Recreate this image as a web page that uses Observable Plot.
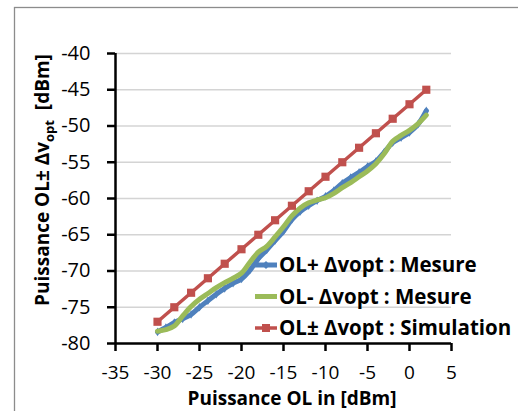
<!DOCTYPE html>
<html>
<head>
<meta charset="utf-8">
<script src="https://cdn.jsdelivr.net/npm/d3@7"></script>
<script src="https://cdn.jsdelivr.net/npm/@observablehq/plot@0.6"></script>
<style>
  body { margin: 0; background: #fff; }
  #chart { position: relative; width: 518px; height: 411px; overflow: hidden; }
  #chart svg { font-family: "Open Sans", sans-serif; }
</style>
</head>
<body>
<div id="chart"></div>
<script>
// ---- data ----
const xTicks = [-35, -30, -25, -20, -15, -10, -5, 0, 5];
const yTicks = [-80, -75, -70, -65, -60, -55, -50, -45, -40];
const seriesNames = ["OL+ Δvopt : Mesure", "OL- Δvopt : Mesure", "OL± Δvopt : Simulation"];
const seriesColors = ["#4F81BD", "#9BBB59", "#C0504D"];
const xLabel = "Puissance OL in [dBm]";
const yLabelMain = "Puissance OL± Δv";
const yLabelSub = "opt";
const yLabelEnd = "  [dBm]";

const xMeas = [-30, -29, -28, -27, -26, -25, -24, -23, -22, -21, -20, -19, -18, -17, -16, -15, -14,
               -13, -12, -11, -10, -9, -8, -7, -6, -5, -4, -3, -2, -1, 0, 1, 2];
const yPlus = [-78.4, -77.8, -77.1, -76.6, -76.0, -75.0, -74.1, -73.2, -72.4, -71.7, -71.1, -69.9, -68.3, -67.1, -65.8, -64.5, -62.9,
               -61.8, -61.0, -60.3, -59.7, -58.9, -57.9, -57.1, -56.4, -55.6, -54.9, -53.6, -52.3, -51.6, -50.9, -49.8, -47.9];
const yMinus = [-78.3, -78.1, -77.6, -76.2, -74.9, -73.9, -73.1, -72.3, -71.6, -71.0, -70.3, -68.8, -67.4, -66.6, -65.3, -63.9, -62.4,
                -61.3, -60.6, -60.2, -59.9, -59.3, -58.5, -57.8, -57.0, -56.2, -55.2, -53.8, -52.1, -51.3, -50.6, -49.7, -48.5];
const xSim = [-30, -28, -26, -24, -22, -20, -18, -16, -14, -12, -10, -8, -6, -4, -2, 0, 2];
const ySim = [-77, -75, -73, -71, -69, -67, -65, -63, -61, -59, -57, -55, -53, -51, -49, -47, -45];

// ---- tables ----
const plusData = xMeas.map((x, i) => ({x, y: yPlus[i]}));
const minusData = xMeas.map((x, i) => ({x, y: yMinus[i]}));
const simData = xSim.map((x, i) => ({x, y: ySim[i]}));

const W = 518, H = 411;
const plot = Plot.plot({
  width: W, height: H,
  marginLeft: 115, marginRight: 67, marginTop: 53, marginBottom: 68,
  style: {fontFamily: "Open Sans", fontSize: "20px", color: "#000", background: "transparent", overflow: "visible"},
  x: {domain: [-35, 5], label: null},
  y: {domain: [-80, -40], label: null},
  marks: [
    Plot.ruleY(yTicks.filter(t => t > yTicks[0]), {stroke: "#d4d4d4", strokeWidth: 1.5}),
    Plot.line(plusData, {x: "x", y: "y", stroke: seriesColors[0], strokeWidth: 5, curve: "catmull-rom"}),
    Plot.dot(plusData, {x: "x", y: "y", symbol: "diamond", r: 2.6, fill: seriesColors[0], stroke: "none"}),
    Plot.line(minusData, {x: "x", y: "y", stroke: seriesColors[1], strokeWidth: 5, curve: "catmull-rom"}),
    Plot.line(simData, {x: "x", y: "y", stroke: seriesColors[2], strokeWidth: 3.5}),
    Plot.dot(simData, {x: "x", y: "y", symbol: "square", r: 4.6, fill: seriesColors[2], stroke: "none"}),
    Plot.ruleX([xTicks[0]], {stroke: "#000", strokeWidth: 2.5}),
    Plot.ruleY([yTicks[0]], {stroke: "#000", strokeWidth: 2.5}),
    Plot.axisX({ticks: xTicks, tickSize: 8, tickPadding: 14, strokeWidth: 2.5, fontSize: 19, tickFormat: d => String(d), label: null}),
    Plot.axisY({ticks: yTicks, tickSize: 8, tickPadding: 17, strokeWidth: 2.5, fontSize: 20, tickFormat: d => String(d), label: null})
  ]
});
document.getElementById("chart").appendChild(plot);

// ---- chart frame, titles, legend ----
const svg = d3.select(plot);
svg.insert("rect", ":first-child")
  .attr("x", 14.5).attr("y", 7.5).attr("width", 1000).attr("height", 1000)
  .attr("fill", "none").attr("stroke", "#8c8c8c").attr("stroke-width", 1.3);

svg.append("text")
  .attr("x", 292).attr("y", 405)
  .attr("text-anchor", "middle").attr("font-weight", 700).attr("font-size", 19)
  .attr("fill", "#000").text(xLabel);

const yt = svg.append("text")
  .attr("transform", "translate(49,180) rotate(-90)")
  .attr("text-anchor", "middle").attr("font-weight", 700).attr("font-size", 19)
  .attr("fill", "#000");
yt.append("tspan").text(yLabelMain);
yt.append("tspan").attr("font-size", 13).attr("dy", 5).text(yLabelSub);
yt.append("tspan").attr("dy", -5).style("white-space", "pre").text(yLabelEnd);

const legendBase = [272, 303.5, 335];
const lg = svg.append("g").attr("text-anchor", "start");
seriesNames.forEach((name, i) => {
  const by = legendBase[i], ly = by - 7;
  lg.append("line").attr("x1", 255).attr("x2", 277).attr("y1", ly).attr("y2", ly)
    .attr("stroke", seriesColors[i]).attr("stroke-width", i === 2 ? 3.5 : 5);
  if (i === 0) {
    lg.append("path").attr("d", `M266,${ly-4}L270,${ly}L266,${ly+4}L262,${ly}Z`).attr("fill", seriesColors[i]);
  }
  if (i === 2) {
    lg.append("rect").attr("x", 262).attr("y", ly - 4).attr("width", 8).attr("height", 8).attr("fill", seriesColors[i]);
  }
  lg.append("text").attr("x", 279).attr("y", by).attr("text-anchor", "start")
    .attr("font-weight", 700).attr("font-size", 20.5).attr("fill", "#000").text(name);
});
</script>
</body>
</html>
